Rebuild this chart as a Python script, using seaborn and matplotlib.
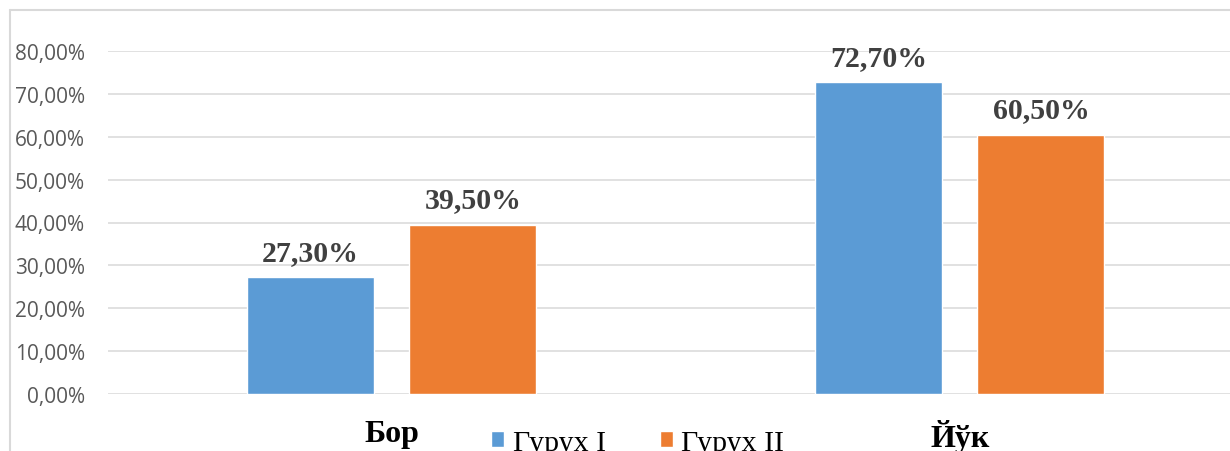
import matplotlib
matplotlib.use("Agg")
import matplotlib.pyplot as plt
from matplotlib.lines import Line2D
from matplotlib.ticker import FuncFormatter
import pandas as pd
import seaborn as sns

# data
categories = ["Бор", "Йўк"]
groups = ["Гурух I", "Гурух II"]
group1 = [27.3, 72.7]
group2 = [39.5, 60.5]
yticks = [0, 10, 20, 30, 40, 50, 60, 70, 80]

df = pd.DataFrame({
    "cat": categories * 2,
    "group": [groups[0]] * 2 + [groups[1]] * 2,
    "value": group1 + group2,
})

sns.set_theme(style="white")
plt.rcParams["font.family"] = ["Liberation Serif", "DejaVu Serif"]

fig = plt.figure(figsize=(12.3, 4.52), dpi=100)
ax = fig.add_axes([107.75 / 1230, 57 / 452, 1136 / 1230, 343 / 452])

sns.barplot(data=df, x="cat", y="value", hue="group",
            palette=["#5B9BD5", "#ED7D31"], width=0.572, gap=0.2185,
            saturation=1, ax=ax)

ax.set_xlim(-0.5, 1.5)
ax.set_ylim(0, 80)
ax.set_yticks(yticks)
ax.yaxis.set_major_formatter(FuncFormatter(lambda v, p: f"{v:.2f}%".replace(".", ",")))
ax.grid(axis="y", color="#d9d9d9", lw=1.1)
ax.set_axisbelow(True)
for s in ax.spines.values():
    s.set_visible(False)
ax.set_xlabel("")
ax.set_ylabel("")

ax.tick_params(axis="y", length=0, pad=16.5, labelsize=15, labelcolor="#595959")
for t in ax.get_yticklabels():
    t.set_fontfamily(["Open Sans", "DejaVu Sans"])
ax.tick_params(axis="x", length=0, pad=18, labelsize=23, labelcolor="black")
for t in ax.get_xticklabels():
    t.set_fontweight("bold")

for cont in ax.containers:
    ax.bar_label(cont, labels=[f"{v:.2f}%".replace(".", ",") for v in cont.datavalues],
                 padding=8, fontsize=21.5, fontweight="bold", color="#404040",
                 clip_on=False)

handles, labels = ax.get_legend_handles_labels()
ax.get_legend().remove()
fig.legend(handles, labels, ncol=2, loc="center left",
           bbox_to_anchor=(491 / 1230, 8 / 452), frameon=False,
           fontsize=21.5, labelcolor="black", handlelength=0.45, handleheight=0.45,
           handletextpad=0.28, columnspacing=1.8, borderaxespad=0, borderpad=0)

# chart frame (cropped on right and bottom)
fig.add_artist(Line2D([10 / 1230, 10 / 1230], [0, 1 - 11 / 452], color="#d9d9d9", lw=1.5))
fig.add_artist(Line2D([10 / 1230, 1], [1 - 11 / 452, 1 - 11 / 452], color="#d9d9d9", lw=1.5))

fig.savefig("out.png", dpi=100)
